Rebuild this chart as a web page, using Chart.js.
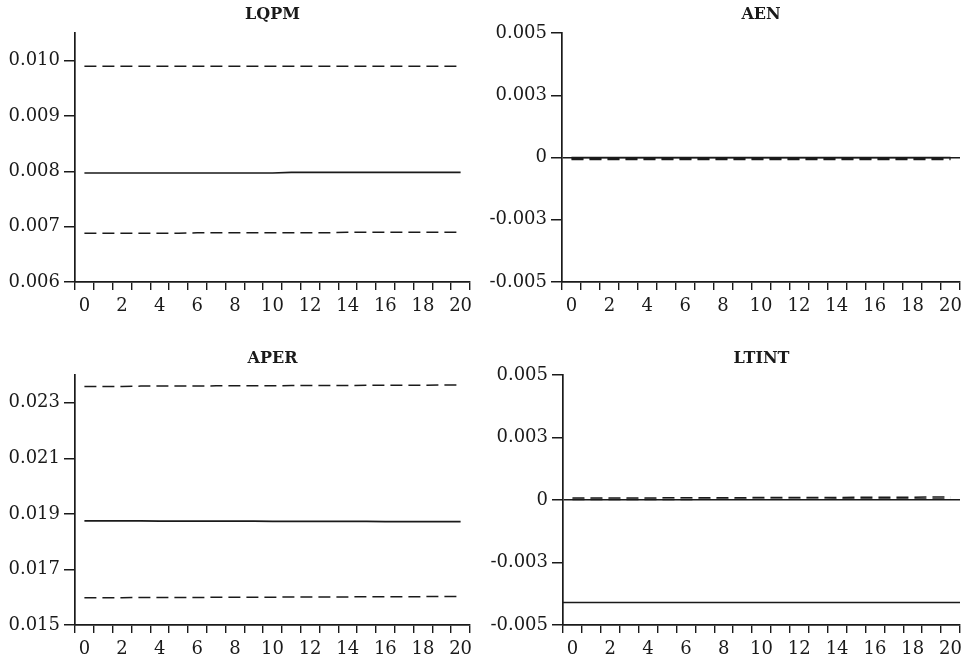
<!DOCTYPE html>
<html>
<head>
    <title>Impulse responses</title>
    <script src="https://cdn.jsdelivr.net/npm/chart.js"></script>
    <style>
        body {
            margin: 0;
            background: #fff;
        }
        #wrap {
            position: relative;
            width: 969px;
            height: 661px;
        }
        .panel {
            position: absolute;
        }
    </style>
</head>
<body>
    <div id="wrap">
        <div class="panel" style="left:0;top:0;width:484px;height:330px"><canvas id="lqpm"></canvas></div>
        <div class="panel" style="left:484px;top:0;width:485px;height:330px"><canvas id="aen"></canvas></div>
        <div class="panel" style="left:0;top:330px;width:484px;height:331px"><canvas id="aper"></canvas></div>
        <div class="panel" style="left:484px;top:330px;width:485px;height:331px"><canvas id="ltint"></canvas></div>
    </div>

    <script>
        const periods = ['0','1','2','3','4','5','6','7','8','9','10','11','12','13','14','15','16','17','18','19','20'];

        // LQPM
        const lqpmUpper = [0.00990,0.00990,0.00990,0.00990,0.00990,0.00990,0.00990,0.00990,0.00990,0.00990,0.00990,0.00990,0.00990,0.00990,0.00990,0.00990,0.00990,0.00990,0.00990,0.00990,0.00990];
        const lqpmMid   = [0.00797,0.00797,0.00797,0.00797,0.00797,0.00797,0.00797,0.00797,0.00797,0.00797,0.00797,0.00798,0.00798,0.00798,0.00798,0.00798,0.00798,0.00798,0.00798,0.00798,0.00798];
        const lqpmLower = [0.00688,0.00688,0.00688,0.00688,0.00688,0.00688,0.00689,0.00689,0.00689,0.00689,0.00689,0.00689,0.00689,0.00689,0.00690,0.00690,0.00690,0.00690,0.00690,0.00690,0.00690];
        const lqpmTickVals = [0.006, 0.007, 0.008, 0.009, 0.010];
        const lqpmTickLabels = ['0.006', '0.007', '0.008', '0.009', '0.010'];

        // AEN
        const aenUpper = [-0.00004,-0.00004,-0.00004,-0.00004,-0.00004,-0.00004,-0.00004,-0.00004,-0.00004,-0.00004,-0.00004,-0.00004,-0.00004,-0.00004,-0.00004,-0.00004,-0.00004,-0.00004,-0.00004,-0.00004,-0.00004];
        const aenMid   = [0,0,0,0,0,0,0,0,0,0,0,0,0,0,0,0,0,0,0,0,0];
        const aenLower = [-0.00008,-0.00008,-0.00008,-0.00008,-0.00008,-0.00008,-0.00008,-0.00008,-0.00008,-0.00008,-0.00008,-0.00008,-0.00008,-0.00008,-0.00008,-0.00008,-0.00008,-0.00008,-0.00008,-0.00008,-0.00008];

        // APER
        const aperUpper = [0.02359,0.02359,0.02359,0.02360,0.02360,0.02360,0.02360,0.02361,0.02361,0.02361,0.02361,0.02362,0.02362,0.02362,0.02362,0.02363,0.02363,0.02363,0.02363,0.02364,0.02364];
        const aperMid   = [0.01875,0.01875,0.01875,0.01875,0.01874,0.01874,0.01874,0.01874,0.01874,0.01874,0.01873,0.01873,0.01873,0.01873,0.01873,0.01873,0.01872,0.01872,0.01872,0.01872,0.01872];
        const aperLower = [0.01598,0.01598,0.01598,0.01599,0.01599,0.01599,0.01599,0.01600,0.01600,0.01600,0.01600,0.01601,0.01601,0.01601,0.01601,0.01602,0.01602,0.01602,0.01602,0.01603,0.01603];
        const aperTickVals = [0.015, 0.017, 0.019, 0.021, 0.023];
        const aperTickLabels = ['0.015', '0.017', '0.019', '0.021', '0.023'];

        // LTINT
        const ltintUpper = [0.00008,0.00008,0.00008,0.00008,0.00008,0.00009,0.00009,0.00009,0.00009,0.00009,0.00010,0.00010,0.00010,0.00010,0.00010,0.00011,0.00011,0.00011,0.00011,0.00012,0.00012];
        const ltintLower = [0.00002,0.00002,0.00002,0.00002,0.00002,0.00002,0.00002,0.00003,0.00003,0.00003,0.00003,0.00003,0.00003,0.00003,0.00004,0.00004,0.00004,0.00004,0.00004,0.00004,0.00004];
        const ltintLevelX = [-0.5, 20.5];
        const ltintLevel  = [-0.0041, -0.0041];

        // shared y ticks for the two right panels
        const symTickVals = [-0.005, -0.0025, 0, 0.0025, 0.005];
        const symTickLabels = ['-0.005', '-0.003', '0', '0.003', '0.005'];

        const ink = '#1a1a1a';
        const tickFont = { family: 'DejaVu Serif', size: 18 };

        function solid(data) {
            return { data: data, borderColor: ink, borderWidth: 1.7, pointRadius: 0, fill: false, xAxisID: 'x' };
        }
        function dashed(data) {
            return { data: data, borderColor: ink, borderWidth: 1.5, borderDash: [12, 6], pointRadius: 0, fill: false, xAxisID: 'x' };
        }

        function makePanel(id, title, datasets, p) {
            return new Chart(document.getElementById(id), {
                type: 'line',
                data: { labels: periods, datasets: datasets },
                options: {
                    responsive: true,
                    maintainAspectRatio: false,
                    animation: false,
                    layout: { padding: { left: 0, right: p.rightPad, top: 0, bottom: 0 } },
                    plugins: {
                        legend: { display: false },
                        tooltip: { enabled: false },
                        title: {
                            display: true,
                            text: title,
                            fullSize: false,
                            color: ink,
                            font: { family: 'DejaVu Serif', weight: 'bold', size: 16 },
                            padding: { top: p.titleTop, bottom: p.titleBottom }
                        }
                    },
                    scales: {
                        x: {
                            type: 'category',
                            offset: true,
                            grid: { offset: true, drawOnChartArea: false, color: ink, lineWidth: 1.4, tickLength: 8 },
                            border: { color: ink, width: 1.7 },
                            ticks: {
                                autoSkip: false,
                                maxRotation: 0,
                                padding: 6,
                                color: ink,
                                font: tickFont,
                                callback: (v, i) => (i % 2 === 0 ? periods[i] : '')
                            },
                            afterFit: s => { s.height = p.xHeight; }
                        },
                        x2: { type: 'linear', display: false, min: -0.5, max: 20.5 },
                        y: {
                            min: p.min,
                            max: p.max,
                            afterBuildTicks: s => { s.ticks = p.tickVals.map(v => ({ value: v })); },
                            grid: {
                                drawOnChartArea: p.zeroLine,
                                color: ctx => (ctx.tick && ctx.tick.value === 0 ? ink : 'rgba(0,0,0,0)'),
                                tickColor: ink,
                                lineWidth: 1.5,
                                tickLength: 11
                            },
                            border: { color: ink, width: 1.7 },
                            ticks: {
                                padding: 4,
                                color: ink,
                                font: tickFont,
                                callback: (v, i) => p.tickLabels[i]
                            },
                            afterFit: s => { s.width = p.yWidth; }
                        }
                    }
                }
            });
        }

        makePanel('lqpm', 'LQPM',
            [dashed(lqpmUpper), solid(lqpmMid), dashed(lqpmLower)],
            { min: 0.006, max: 0.0105, tickVals: lqpmTickVals, tickLabels: lqpmTickLabels, zeroLine: false,
              yWidth: 75, rightPad: 14, titleTop: 5, titleBottom: 8.8, xHeight: 48 });

        makePanel('aen', 'AEN',
            [solid(aenMid), dashed(aenUpper), dashed(aenLower)],
            { min: -0.005, max: 0.005, tickVals: symTickVals, tickLabels: symTickLabels, zeroLine: true,
              yWidth: 78, rightPad: 9, titleTop: 5, titleBottom: 8.8, xHeight: 48 });

        makePanel('aper', 'APER',
            [dashed(aperUpper), solid(aperMid), dashed(aperLower)],
            { min: 0.015, max: 0.024, tickVals: aperTickVals, tickLabels: aperTickLabels, zeroLine: false,
              yWidth: 75, rightPad: 14, titleTop: 19, titleBottom: 6.8, xHeight: 36 });

        makePanel('ltint', 'LTINT',
            [dashed(ltintUpper), dashed(ltintLower),
             { data: ltintLevelX.map((x, i) => ({ x: x, y: ltintLevel[i] })), xAxisID: 'x2',
               borderColor: ink, borderWidth: 1.5, pointRadius: 0, fill: false }],
            { min: -0.005, max: 0.005, tickVals: symTickVals, tickLabels: symTickLabels, zeroLine: true,
              yWidth: 79, rightPad: 9, titleTop: 19, titleBottom: 6.8, xHeight: 36 });
    </script>
</body>
</html>
